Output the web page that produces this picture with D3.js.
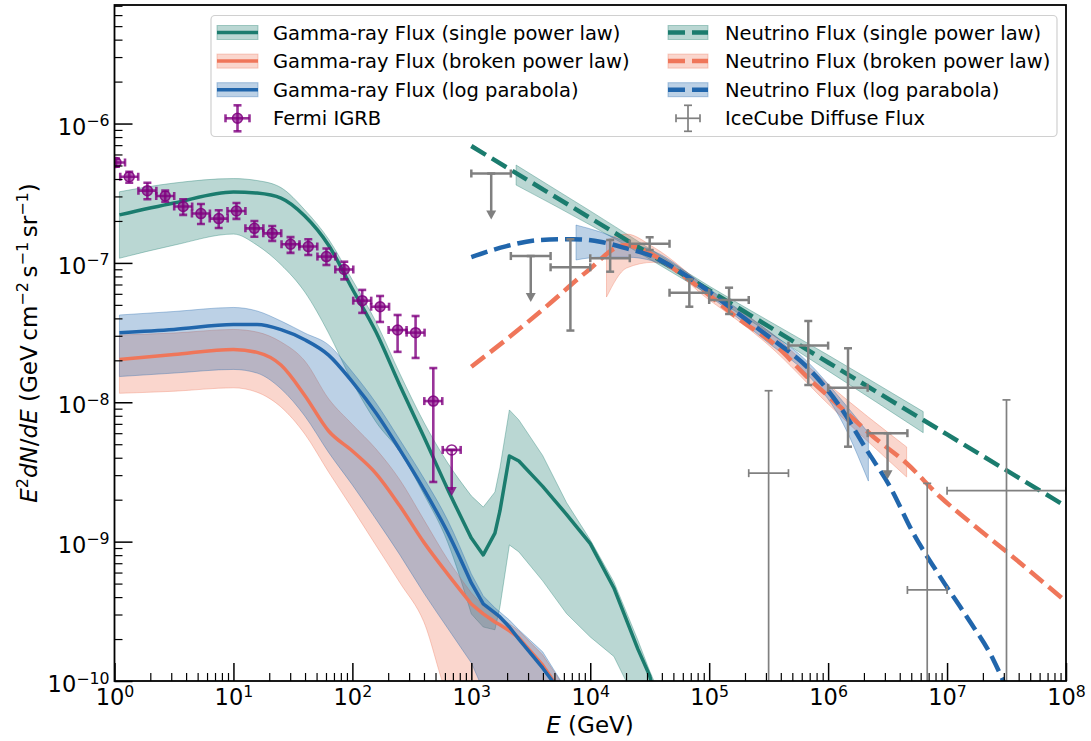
<!DOCTYPE html>
<html>
<head>
<meta charset="utf-8">
<script src="https://cdn.jsdelivr.net/npm/d3@7"></script>
<style>
	body { margin: 0; background: #fff; }
	svg { display: block; font-family: 'DejaVu Sans', sans-serif; }
</style>
</head>
<body>
<svg id="chart"></svg>
<script>
// ---- data ----
// gamma-ray model grid (GeV)
const gE = [1.1, 3.16, 10, 15.8, 25.1, 39.8, 63.1, 100, 158, 251, 398, 631, 1000, 1260, 1580, 1740, 2090, 2510, 3980, 6310, 1e4, 1.58e4, 2.51e4, 3.16e4, 3.55e4];

const gSingle = [2.21e-7, 2.69e-7, 3.23e-7, 3.17e-7, 2.92e-7, 2.17e-7, 1.34e-7, 6.5e-8, 3.19e-8, 1.32e-8, 5.68e-9, 2.39e-9, 1.06e-9, 8.03e-10, 1.15e-9, 1.66e-9, 4.12e-9, 3.79e-9, 2.49e-9, 1.57e-9, 9.68e-10, 4.65e-10, 1.7e-10, 1.09e-10, 7.32e-11];
const gSingleHi = [3.24e-7, 3.74e-7, 4.03e-7, 3.9e-7, 3.47e-7, 2.4e-7, 1.48e-7, 7.54e-8, 3.77e-8, 1.6e-8, 7.22e-9, 3.69e-9, 2.13e-9, 1.77e-9, 2.27e-9, 3.38e-9, 8.81e-9, 7.47e-9, 4.15e-9, 1.91e-9, 1.03e-9, 5.14e-10, 1.97e-10, 1.18e-10, 9.37e-11];
const gSingleLo = [1.08e-7, 1.34e-7, 1.61e-7, 1.34e-7, 9.72e-8, 6.18e-8, 3.14e-8, 1.4e-8, 7.22e-9, 4.4e-9, 2.2e-9, 9.95e-10, 3.03e-10, 2.44e-10, 2.33e-10, 3.4e-10, 9.47e-10, 8.44e-10, 5.23e-10, 3.05e-10, 2.07e-10, 1.5e-10, 6.74e-11, 4.46e-11, 3.48e-11];

const gBroken = [2.03e-8, 2.2e-8, 2.39e-8, 2.28e-8, 1.85e-8, 1.12e-8, 6.22e-9, 4.47e-9, 3.08e-9, 1.8e-9, 9.92e-10, 5.87e-10, 3.57e-10, 3.03e-10, 2.65e-10, 2.53e-10, 2.29e-10, 2.04e-10, 1.3e-10, 7.32e-11];
const gBrokenHi = [3.04e-8, 3.14e-8, 3.33e-8, 3.19e-8, 2.71e-8, 1.98e-8, 1.06e-8, 6.93e-9, 4.62e-9, 2.77e-9, 1.44e-9, 7.48e-10, 4.29e-10, 3.46e-10, 2.98e-10, 2.84e-10, 2.57e-10, 2.29e-10, 1.54e-10, 8.63e-11];
const gBrokenLo = [1.16e-8, 1.2e-8, 1.27e-8, 1.18e-8, 9.25e-9, 5.92e-9, 3.16e-9, 1.73e-9, 9.39e-10, 5.07e-10, 2.67e-10, 7.95e-11, 5.3e-11, 4.0e-11, 3.5e-11, 3.3e-11, 3.0e-11, 2.8e-11, 2.5e-11, 2.0e-11];

const gLogpar = [3.16e-8, 3.33e-8, 3.61e-8, 3.61e-8, 3.32e-8, 2.81e-8, 2.18e-8, 1.4e-8, 8.38e-9, 4.55e-9, 2.38e-9, 1.17e-9, 5.05e-10, 3.57e-10, 3.08e-10, 2.88e-10, 2.44e-10, 2.0e-10, 1.24e-10, 7.32e-11];
const gLogparHi = [4.23e-8, 4.48e-8, 4.79e-8, 4.52e-8, 3.83e-8, 3.14e-8, 2.58e-8, 1.65e-8, 9.89e-9, 5.36e-9, 2.86e-9, 1.43e-9, 5.87e-10, 4.08e-10, 3.35e-10, 3.13e-10, 2.74e-10, 2.33e-10, 1.62e-10, 8.63e-11];
const gLogparLo = [1.53e-8, 1.62e-8, 1.72e-8, 1.62e-8, 1.25e-8, 7.97e-9, 4.37e-9, 2.55e-9, 1.45e-9, 8.03e-10, 4.29e-10, 2.4e-10, 1.35e-10, 8.63e-11, 7.3e-11, 6.5e-11, 6.0e-11, 5.5e-11, 4.5e-11, 3.5e-11];

// neutrino models
const nSingleE = [1e3, 1e4, 1e5, 1e6, 1e7, 1e8];
const nSingle = [6.9e-7, 2.1e-7, 6.37e-8, 1.93e-8, 5.88e-9, 1.79e-9];
const nSingleBandE = [2.38e3, 1e4, 1e5, 1e6, 6.3e6];
const nSingleHi = [5.04e-7, 2.36e-7, 6.82e-8, 2.18e-8, 8.57e-9];
const nSingleLo = [3.62e-7, 1.87e-7, 5.89e-8, 1.68e-8, 6.05e-9];

const nBrokenE = [1e3, 2113, 4592, 9333, 1.95e4, 3.37e4, 5.69e4, 9.53e4, 1.82e5, 3.46e5, 6.61e5, 1.26e6, 2.4e6, 4.57e6, 8.73e6, 1.66e7, 3.17e7, 1e8];
const nBroken = [1.8e-8, 2.96e-8, 5.13e-8, 8.65e-8, 1.34e-7, 1.14e-7, 8.41e-8, 6.05e-8, 3.89e-8, 2.65e-8, 1.53e-8, 9.29e-9, 5.66e-9, 3.65e-9, 2.1e-9, 1.32e-9, 8.45e-10, 3.72e-10];
const nBrokenBandE = [1.37e4, 2.02e4, 3.39e4, 1e5, 3.16e5, 1e6, 4.57e6];
const nBrokenHi = [1.46e-7, 1.61e-7, 1.3e-7, 6.4e-8, 3.24e-8, 1.35e-8, 4.78e-9];
const nBrokenLo = [5.69e-8, 9.19e-8, 1.01e-7, 5.42e-8, 2.57e-8, 9.72e-9, 2.91e-9];

const nLogparE = [1e3, 1982, 3776, 7194, 1.21e4, 2.02e4, 3.39e4, 5.69e4, 9.53e4, 1.6e5, 2.67e5, 3.46e5, 6.61e5, 1.26e6, 2.11e6, 3.31e6, 5.2e6, 8.73e6, 1.46e7, 2.45e7, 2.97e7, 4e7];
const nLogpar = [1.1e-7, 1.32e-7, 1.46e-7, 1.48e-7, 1.42e-7, 1.27e-7, 1.11e-7, 8.65e-8, 6.4e-8, 4.6e-8, 3.3e-8, 2.8e-8, 1.8e-8, 9.29e-9, 4.55e-9, 2.48e-9, 1.15e-9, 5.61e-10, 2.9e-10, 1.42e-10, 1.0e-10, 5.5e-11];
const nLogparBandE = [7.59e3, 1.21e4, 2.02e4, 3.39e4, 1e5, 3.16e5, 6.61e5, 1.26e6, 2.18e6];
const nLogparHi = [1.87e-7, 1.67e-7, 1.41e-7, 1.22e-7, 6.5e-8, 3.24e-8, 1.98e-8, 1.07e-8, 6.03e-9];
const nLogparLo = [1.05e-7, 1.1e-7, 1.1e-7, 1.03e-7, 5.79e-8, 2.66e-8, 1.6e-8, 7.71e-9, 2.72e-9];

// Fermi IGRB
const fermiE = [1.03, 1.33, 1.89, 2.67, 3.78, 5.33, 7.52, 10.6, 15.0, 21.2, 30.2, 42.6, 60.5, 85.5, 121, 171, 240, 340, 479, 684];
const fermiF = [5.25e-7, 4.15e-7, 3.3e-7, 3.02e-7, 2.54e-7, 2.26e-7, 2.08e-7, 2.36e-7, 1.77e-7, 1.63e-7, 1.36e-7, 1.31e-7, 1.11e-7, 8.97e-8, 5.36e-8, 4.85e-8, 3.3e-8, 3.16e-8, 1.02e-8, 4.55e-9];
const fermiHi = [5.6e-7, 4.51e-7, 3.76e-7, 3.3e-7, 2.86e-7, 2.65e-7, 2.39e-7, 2.69e-7, 2.0e-7, 1.84e-7, 1.53e-7, 1.48e-7, 1.27e-7, 1.02e-7, 6.4e-8, 5.79e-8, 4.23e-8, 4.16e-8, 1.76e-8, null];
const fermiLo = [4.9e-7, 3.76e-7, 2.86e-7, 2.75e-7, 2.21e-7, 1.9e-7, 1.78e-7, 2.07e-7, 1.54e-7, 1.44e-7, 1.18e-7, 1.14e-7, 9.66e-8, 7.62e-8, 4.38e-8, 3.77e-8, 2.3e-8, 2.08e-8, 2.68e-9, null];
const fermiBin = 1.19; // half bin width factor in E

// IceCube diffuse flux
const icE = [1.47e3, 3.16e3, 6.81e3, 1.47e4, 3.16e4, 6.81e4, 1.47e5, 3.16e5, 6.81e5, 1.47e6, 3.16e6, 6.81e6, 3.16e7];
const icElo = [1e3, 2.15e3, 4.64e3, 1e4, 2.15e4, 4.64e4, 1e5, 2.15e5, 4.64e5, 1e6, 2.15e6, 4.64e6, 1e7];
const icEhi = [2.15e3, 4.64e3, 1e4, 2.15e4, 4.64e4, 1e5, 2.15e5, 4.64e5, 1e6, 2.15e6, 4.64e6, 1e7, 1e8];
const icF = [4.39e-7, 1.12e-7, 9.3e-8, 1.08e-7, 1.37e-7, 6.11e-8, 5.42e-8, 3.1e-9, 2.55e-8, 1.27e-8, 6.0e-9, 4.5e-10, 2.32e-9];
const icHi = [null, null, 1.48e-7, 1.46e-7, 1.53e-7, 7.62e-8, 6.64e-8, 1.21e-8, 3.83e-8, 2.44e-8, null, 2.62e-9, 1.04e-8];
const icLo = [null, null, 3.27e-8, 8.65e-8, 1.24e-7, 4.85e-8, 4.3e-8, 1e-11, 1.33e-8, 4.8e-9, null, 1e-11, 1e-11];

const xTicks = [1, 10, 100, 1e3, 1e4, 1e5, 1e6, 1e7, 1e8];
const yTicks = [1e-10, 1e-9, 1e-8, 1e-7, 1e-6];

const legendLeft = ['Gamma-ray Flux (single power law)', 'Gamma-ray Flux (broken power law)', 'Gamma-ray Flux (log parabola)', 'Fermi IGRB'];
const legendRight = ['Neutrino Flux (single power law)', 'Neutrino Flux (broken power law)', 'Neutrino Flux (log parabola)', 'IceCube Diffuse Flux'];

// ---- chart ----
const width = 1091, height = 741;
const teal = '#1b7c6e', salmon = '#ef765a', blue = '#2166ac', purple = '#800080', grey = '#808080';

const svg = d3.select('#chart').attr('width', width).attr('height', height);
svg.append('rect').attr('width', width).attr('height', height).attr('fill', '#fff');

const x = d3.scaleLog().domain([1, 1e8]).range([114.5, 1066]);
const y = d3.scaleLog().domain([1e-10, 7.09e-6]).range([681, 5]);

svg.append('defs').append('clipPath').attr('id', 'clip')
	.append('rect').attr('x', 114.5).attr('y', 5).attr('width', 951.5).attr('height', 676);

const plot = svg.append('g').attr('clip-path', 'url(#clip)');

// path through points: smooth up to index `split`, straight segments after it
// (gamma-ray models have a sharp dip / spike around 1-2 TeV)
function pathOf(pts, split) {
	const smooth = d3.line().x((d) => x(d[0])).y((d) => y(d[1])).curve(d3.curveMonotoneX);
	const straight = d3.line().x((d) => x(d[0])).y((d) => y(d[1]));
	if (split == null || split >= pts.length - 1) return smooth(pts);
	if (split <= 0) return straight(pts);
	return smooth(pts.slice(0, split + 1)) + straight(pts.slice(split)).replace(/^M/, 'L');
}
function revPathOf(pts, split) {
	// same as pathOf but walked from the last point back to the first
	const r = pts.slice().reverse();
	const smooth = d3.line().x((d) => x(d[0])).y((d) => y(d[1])).curve(d3.curveMonotoneX);
	const straight = d3.line().x((d) => x(d[0])).y((d) => y(d[1]));
	if (split == null || split >= pts.length - 1) return smooth(r);
	const k = pts.length - 1 - split;
	return straight(r.slice(0, k + 1)) + smooth(r.slice(k)).replace(/^M/, 'L');
}

const zip = (e, v) => e.map((d, i) => [d, v[i]]).filter((d) => d[1] != null);

function band(e, lo, hi, color, split) {
	const up = zip(e, hi), dn = zip(e, lo);
	const d = pathOf(up, split) + revPathOf(dn, split).replace(/^M/, 'L') + 'Z';
	plot.append('path').attr('d', d)
		.attr('fill', color).attr('fill-opacity', 0.3)
		.attr('stroke', color).attr('stroke-opacity', 0.35).attr('stroke-width', 1);
}
function curve(e, v, color, dashed, split) {
	plot.append('path').attr('d', pathOf(zip(e, v), split))
		.attr('fill', 'none').attr('stroke', color)
		.attr('stroke-width', dashed ? 4.5 : 3.5)
		.attr('stroke-linejoin', 'round')
		.attr('stroke-dasharray', dashed ? '17,7' : null);
}

const gSplit = 12; // index of 1 TeV in gE
// gamma-ray bands + lines
band(gE, gSingleLo, gSingleHi, teal, gSplit);
band(gE.slice(0, gBroken.length), gBrokenLo, gBrokenHi, salmon, gSplit);
band(gE.slice(0, gLogpar.length), gLogparLo, gLogparHi, blue, gSplit);
curve(gE, gSingle, teal, false, gSplit);
curve(gE.slice(0, gBroken.length), gBroken, salmon, false, gSplit);
curve(gE.slice(0, gLogpar.length), gLogpar, blue, false, gSplit);

// neutrino bands + lines
band(nSingleBandE, nSingleLo, nSingleHi, teal);
band(nBrokenBandE, nBrokenLo, nBrokenHi, salmon);
band(nLogparBandE, nLogparLo, nLogparHi, blue);
curve(nSingleE, nSingle, teal, true);
curve(nBrokenE, nBroken, salmon, true);
curve(nLogparE, nLogpar, blue, true);

// error bar helper
function errbar(g, o) {
	const s = g.append('g').attr('stroke', o.color).attr('stroke-width', o.lw).attr('stroke-opacity', o.op || 1);
	const c = o.cap;
	s.append('line').attr('x1', o.xl).attr('x2', o.xr).attr('y1', o.cy).attr('y2', o.cy);
	s.append('line').attr('x1', o.xl).attr('x2', o.xl).attr('y1', o.cy - c).attr('y2', o.cy + c);
	s.append('line').attr('x1', o.xr).attr('x2', o.xr).attr('y1', o.cy - c).attr('y2', o.cy + c);
	if (o.ul) {
		const yb = o.cy + 46;
		s.append('line').attr('x1', o.cx).attr('x2', o.cx).attr('y1', o.cy).attr('y2', yb - 6);
		s.append('line').attr('x1', o.cx - c).attr('x2', o.cx + c).attr('y1', o.cy).attr('y2', o.cy);
		g.append('path').attr('d', `M${o.cx - 5},${yb - 9}L${o.cx + 5},${yb - 9}L${o.cx},${yb}Z`)
			.attr('fill', o.color).attr('fill-opacity', o.op || 1);
	} else {
		s.append('line').attr('x1', o.cx).attr('x2', o.cx).attr('y1', o.yt).attr('y2', o.yb);
		s.append('line').attr('x1', o.cx - c).attr('x2', o.cx + c).attr('y1', o.yt).attr('y2', o.yt);
		s.append('line').attr('x1', o.cx - c).attr('x2', o.cx + c).attr('y1', o.yb).attr('y2', o.yb);
	}
}

// IceCube points
icE.forEach((e, i) => {
	const thin = icLo[i] != null && icLo[i] < 1e-10;
	errbar(plot, {
		cx: x(e), cy: y(icF[i]), xl: x(icElo[i]), xr: x(icEhi[i]),
		yt: icHi[i] ? y(icHi[i]) : null, yb: icLo[i] ? y(icLo[i]) : null,
		ul: icHi[i] == null, color: grey, lw: thin ? 1.7 : 2.5, cap: 4
	});
});

// Fermi points
fermiE.forEach((e, i) => {
	const ul = fermiHi[i] == null;
	errbar(plot, {
		cx: x(e), cy: y(fermiF[i]), xl: x(e / fermiBin), xr: x(e * fermiBin),
		yt: ul ? null : y(fermiHi[i]), yb: ul ? null : y(fermiLo[i]),
		ul: ul, color: purple, lw: 2.6, cap: 4, op: 0.8
	});
	plot.append('circle').attr('cx', x(e)).attr('cy', y(fermiF[i])).attr('r', 5)
		.attr('fill', ul ? 'none' : purple).attr('fill-opacity', 0.6)
		.attr('stroke', purple).attr('stroke-opacity', 0.85).attr('stroke-width', 1.5);
});

// ---- axes ----
const minorX = [];
for (let k = 0; k < 8; k++) for (let m = 2; m <= 9; m++) minorX.push(m * Math.pow(10, k));
const minorY = [];
for (let k = -10; k < -5; k++) for (let m = 2; m <= 9; m++) {
	const v = m * Math.pow(10, k);
	if (v < 7.09e-6) minorY.push(v);
}

const supTicks = (g) => {
	g.selectAll('.tick text').each(function (d) {
		const t = d3.select(this).text('');
		const p = Math.round(Math.log10(d));
		t.append('tspan').text('10');
		t.append('tspan').attr('dy', -8.5).attr('font-size', 15.75).text(String(p).replace('-', '\u2212'));
	});
};

svg.append('g').attr('transform', 'translate(0,681)')
	.call(d3.axisBottom(x).tickValues(xTicks).tickSizeInner(-18).tickSizeOuter(0).tickPadding(0).tickFormat((d) => d))
	.call((g) => g.select('.domain').remove())
	.call((g) => g.selectAll('.tick line').attr('stroke', '#000').attr('stroke-width', 1.5))
	.call((g) => g.selectAll('.tick text').attr('y', 24).attr('dy', 0).attr('fill', '#000')
		.attr('font-size', 22.5).attr('font-family', 'DejaVu Sans'))
	.call(supTicks);
svg.append('g').attr('transform', 'translate(0,681)')
	.call(d3.axisBottom(x).tickValues(minorX).tickSizeInner(-8).tickSizeOuter(0).tickFormat(''))
	.call((g) => g.select('.domain').remove())
	.call((g) => g.selectAll('.tick line').attr('stroke', '#000').attr('stroke-width', 1.2));

svg.append('g').attr('transform', 'translate(114.5,0)')
	.call(d3.axisLeft(y).tickValues(yTicks).tickSizeInner(-18).tickSizeOuter(0).tickPadding(0).tickFormat((d) => d))
	.call((g) => g.select('.domain').remove())
	.call((g) => g.selectAll('.tick line').attr('stroke', '#000').attr('stroke-width', 1.5))
	.call((g) => g.selectAll('.tick text').attr('x', -5).attr('y', 10.5).attr('dy', 0).attr('fill', '#000')
		.attr('font-size', 22.5).attr('font-family', 'DejaVu Sans'))
	.call(supTicks);
svg.append('g').attr('transform', 'translate(114.5,0)')
	.call(d3.axisLeft(y).tickValues(minorY).tickSizeInner(-8).tickSizeOuter(0).tickFormat(''))
	.call((g) => g.select('.domain').remove())
	.call((g) => g.selectAll('.tick line').attr('stroke', '#000').attr('stroke-width', 1.2));

// frame
svg.append('rect').attr('x', 114.5).attr('y', 5).attr('width', 951.5).attr('height', 676)
	.attr('fill', 'none').attr('stroke', '#000').attr('stroke-width', 1.8);

// axis labels
const xl = svg.append('text').attr('x', 590).attr('y', 733).attr('text-anchor', 'middle')
	.attr('font-size', 23);
xl.append('tspan').attr('font-style', 'italic').text('E');
xl.append('tspan').text(' (GeV)');

const yl = svg.append('text').attr('transform', 'translate(37,343) rotate(-90)')
	.attr('text-anchor', 'middle').attr('font-size', 23);
yl.append('tspan').attr('font-style', 'italic').text('E');
yl.append('tspan').attr('dy', -9).attr('font-size', 16).text('2');
yl.append('tspan').attr('dy', 9).attr('font-style', 'italic').text('dN');
yl.append('tspan').text('/');
yl.append('tspan').attr('font-style', 'italic').text('dE');
yl.append('tspan').text(' (GeV\u2009cm');
yl.append('tspan').attr('dy', -9).attr('font-size', 16).text('\u22122');
yl.append('tspan').attr('dy', 9).text('\u2009s');
yl.append('tspan').attr('dy', -9).attr('font-size', 16).text('\u22121');
yl.append('tspan').attr('dy', 9).text('\u2009sr');
yl.append('tspan').attr('dy', -9).attr('font-size', 16).text('\u22121');
yl.append('tspan').attr('dy', 9).text(')');

// ---- legend ----
const lg = svg.append('g');
lg.append('rect').attr('x', 211).attr('y', 15.5).attr('width', 846).attr('height', 121).attr('rx', 4)
	.attr('fill', '#fff').attr('fill-opacity', 0.8).attr('stroke', '#d0d0d0').attr('stroke-width', 1.2);

const colors = [teal, salmon, blue];
const rowY = (i) => 32.5 + i * 28.6;
[[217, 258, legendLeft, false], [668, 708, legendRight, true]].forEach(([x0, x1, labels, dashed]) => {
	labels.forEach((lab, i) => {
		const cy = rowY(i);
		if (i < 3) {
			lg.append('rect').attr('x', x0).attr('y', cy - 7).attr('width', x1 - x0).attr('height', 14)
				.attr('fill', colors[i]).attr('fill-opacity', 0.3)
				.attr('stroke', colors[i]).attr('stroke-opacity', 0.35).attr('stroke-width', 1);
			lg.append('line').attr('x1', x0).attr('x2', x1).attr('y1', cy).attr('y2', cy)
				.attr('stroke', colors[i]).attr('stroke-width', dashed ? 4.5 : 3.5)
				.attr('stroke-dasharray', dashed ? '17,7' : null);
		} else {
			const cx = (x0 + x1) / 2;
			const col = dashed ? grey : purple;
			errbar(lg, { cx: cx, cy: cy, xl: cx - 12, xr: cx + 12, yt: cy - 13, yb: cy + 13,
				ul: false, color: col, lw: dashed ? 1.7 : 2.6, cap: 4, op: dashed ? 1 : 0.8 });
			if (!dashed) {
				lg.append('circle').attr('cx', cx).attr('cy', cy).attr('r', 5)
					.attr('fill', purple).attr('fill-opacity', 0.6)
					.attr('stroke', purple).attr('stroke-opacity', 0.85).attr('stroke-width', 1.5);
			}
		}
		lg.append('text').attr('x', dashed ? 725 : 273).attr('y', cy).attr('dy', '0.36em')
			.attr('font-size', 19.5).text(lab);
	});
});
</script>
</body>
</html>
